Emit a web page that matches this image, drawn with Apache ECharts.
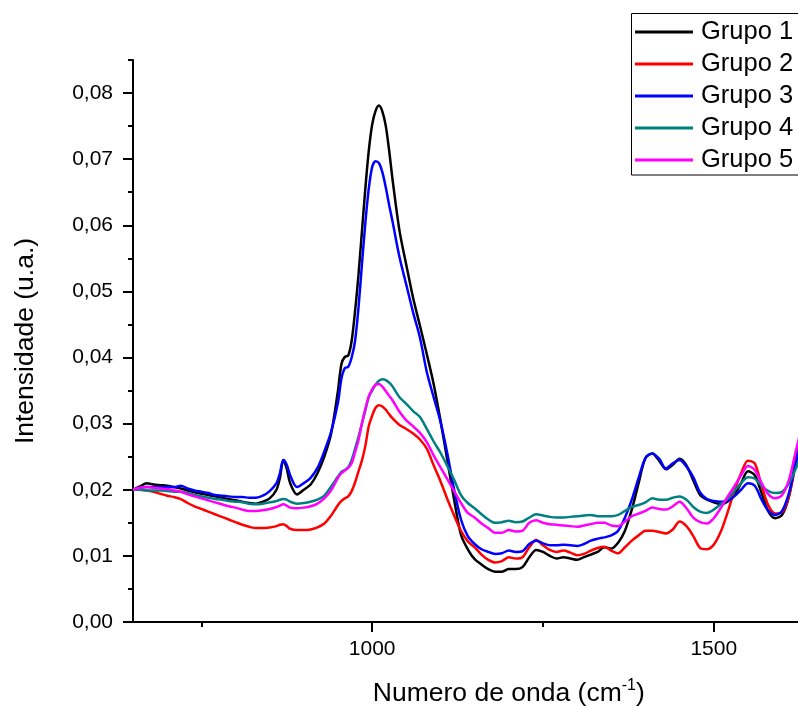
<!DOCTYPE html>
<html><head><meta charset="utf-8">
<script src="https://cdn.jsdelivr.net/npm/echarts@6/dist/echarts.min.js"></script>
<style>html,body{margin:0;padding:0;background:#fff}#c{width:798px;height:709px}</style>
</head><body><div id="c"></div>
<script>
// Wavenumber (cm-1)
const wavenumbers = [
  650,660,670,680,690,700,710,720,730,740,
  750,760,770,780,790,800,810,820,830,840,
  850,860,865,870,875,880,890,900,910,920,930,940,
  950,955,960,965,970,975,980,985,990,995,
  1000,1005,1010,1015,1020,1025,1030,1040,
  1050,1060,1070,1080,1090,1100,1110,1120,1130,1140,
  1150,1160,1170,1180,1190,1200,1210,1220,1230,1240,
  1250,1260,1270,1280,1290,1300,1310,1320,1330,1340,
  1350,1360,1370,1380,1390,1400,1410,1420,1430,1440,
  1450,1460,1470,1480,1490,1500,1510,1520,1530,1540,
  1550,1560,1570,1580,1590,1600,1610,1620,1630
];
const grupo1 = [
  0.0200,0.0205,0.0210,0.0208,0.0207,0.0206,0.0204,0.0202,0.0199,0.0196,
  0.0194,0.0192,0.0190,0.0188,0.0186,0.0184,0.0182,0.0180,0.0179,0.0182,
  0.0187,0.0200,0.0218,0.0245,0.0232,0.0210,0.0193,0.0200,0.0208,0.0225,0.0250,0.0285,
  0.0350,0.0390,0.0401,0.0403,0.0425,0.0470,0.0525,0.0590,0.0655,0.0712,
  0.0752,0.0773,0.0781,0.0772,0.0750,0.0712,0.0668,0.0592,
  0.0540,0.0490,0.0448,0.0405,0.0360,0.0305,0.0245,0.0185,0.0132,0.0110,
  0.0095,0.0087,0.0080,0.0076,0.0076,0.0080,0.0080,0.0083,0.0098,0.0109,
  0.0106,0.0100,0.0096,0.0098,0.0096,0.0094,0.0098,0.0102,0.0106,0.0113,
  0.0111,0.0120,0.0138,0.0170,0.0210,0.0248,0.0255,0.0244,0.0231,0.0238,
  0.0247,0.0237,0.0214,0.0192,0.0185,0.0181,0.0178,0.0182,0.0192,0.0210,
  0.0228,0.0222,0.0195,0.0167,0.0157,0.0162,0.0190,0.0245,0.0290
];
const grupo2 = [
  0.0200,0.0200,0.0199,0.0197,0.0194,0.0191,0.0189,0.0186,0.0180,0.0175,
  0.0171,0.0167,0.0163,0.0159,0.0155,0.0151,0.0147,0.0144,0.0142,0.0142,
  0.0143,0.0145,0.0147,0.0148,0.0145,0.0141,0.0139,0.0139,0.0140,0.0143,0.0149,0.0161,
  0.0177,0.0183,0.0187,0.0190,0.0198,0.0211,0.0228,0.0244,0.0266,0.0296,
  0.0312,0.0324,0.0328,0.0326,0.0321,0.0314,0.0308,0.0298,
  0.0292,0.0285,0.0276,0.0262,0.0237,0.0213,0.0186,0.0161,0.0138,0.0122,
  0.0113,0.0102,0.0094,0.0090,0.0092,0.0098,0.0096,0.0098,0.0113,0.0124,
  0.0116,0.0109,0.0106,0.0108,0.0105,0.0101,0.0103,0.0108,0.0112,0.0114,
  0.0108,0.0104,0.0113,0.0123,0.0131,0.0138,0.0138,0.0136,0.0134,0.0140,
  0.0152,0.0145,0.0130,0.0112,0.0110,0.0117,0.0136,0.0165,0.0198,0.0225,
  0.0244,0.0240,0.0206,0.0176,0.0164,0.0166,0.0190,0.0240,0.0285
];
const grupo3 = [
  0.0200,0.0203,0.0204,0.0204,0.0204,0.0204,0.0204,0.0206,0.0202,0.0199,
  0.0197,0.0195,0.0192,0.0191,0.0190,0.0189,0.0189,0.0188,0.0188,0.0191,
  0.0198,0.0210,0.0225,0.0245,0.0238,0.0222,0.0204,0.0210,0.0218,0.0233,0.0258,0.0288,
  0.0332,0.0368,0.0384,0.0386,0.0400,0.0425,0.0475,0.0540,0.0603,0.0655,
  0.0688,0.0697,0.0694,0.0680,0.0657,0.0630,0.0605,0.0552,
  0.0510,0.0468,0.0430,0.0378,0.0340,0.0303,0.0255,0.0200,0.0155,0.0130,
  0.0118,0.0110,0.0106,0.0103,0.0104,0.0108,0.0106,0.0107,0.0118,0.0123,
  0.0119,0.0116,0.0116,0.0117,0.0116,0.0115,0.0118,0.0123,0.0126,0.0128,
  0.0131,0.0138,0.0158,0.0185,0.0218,0.0248,0.0255,0.0247,0.0232,0.0240,
  0.0245,0.0235,0.0219,0.0196,0.0186,0.0183,0.0182,0.0183,0.0190,0.0200,
  0.0210,0.0206,0.0185,0.0168,0.0162,0.0168,0.0195,0.0240,0.0285
];
const grupo4 = [
  0.0200,0.0200,0.0199,0.0199,0.0199,0.0198,0.0197,0.0197,0.0195,0.0192,
  0.0190,0.0188,0.0186,0.0185,0.0183,0.0182,0.0181,0.0179,0.0178,0.0179,
  0.0181,0.0183,0.0185,0.0186,0.0185,0.0182,0.0179,0.0180,0.0182,0.0185,0.0191,0.0205,
  0.0220,0.0227,0.0230,0.0234,0.0245,0.0262,0.0280,0.0300,0.0320,0.0340,
  0.0350,0.0359,0.0365,0.0367,0.0366,0.0362,0.0356,0.0340,
  0.0330,0.0319,0.0310,0.0292,0.0273,0.0256,0.0236,0.0215,0.0192,0.0180,
  0.0172,0.0163,0.0155,0.0150,0.0151,0.0153,0.0151,0.0152,0.0158,0.0163,
  0.0161,0.0159,0.0158,0.0158,0.0159,0.0160,0.0161,0.0162,0.0160,0.0160,
  0.0160,0.0162,0.0168,0.0174,0.0177,0.0181,0.0187,0.0185,0.0185,0.0188,
  0.0190,0.0185,0.0174,0.0167,0.0165,0.0170,0.0178,0.0186,0.0198,0.0210,
  0.0219,0.0217,0.0206,0.0198,0.0195,0.0197,0.0210,0.0232,0.0260
];
const grupo5 = [
  0.0200,0.0203,0.0204,0.0203,0.0202,0.0201,0.0199,0.0197,0.0193,0.0190,
  0.0187,0.0184,0.0181,0.0178,0.0175,0.0173,0.0170,0.0168,0.0168,0.0169,
  0.0171,0.0174,0.0176,0.0178,0.0176,0.0173,0.0172,0.0173,0.0175,0.0179,0.0187,0.0199,
  0.0218,0.0225,0.0229,0.0233,0.0240,0.0257,0.0275,0.0300,0.0322,0.0341,
  0.0352,0.0359,0.0360,0.0356,0.0349,0.0342,0.0335,0.0318,
  0.0305,0.0296,0.0286,0.0272,0.0252,0.0234,0.0216,0.0198,0.0180,0.0165,
  0.0158,0.0149,0.0142,0.0135,0.0135,0.0139,0.0137,0.0138,0.0150,0.0154,
  0.0150,0.0148,0.0147,0.0146,0.0145,0.0144,0.0146,0.0148,0.0150,0.0150,
  0.0146,0.0145,0.0152,0.0160,0.0164,0.0168,0.0173,0.0171,0.0170,0.0175,
  0.0182,0.0172,0.0158,0.0151,0.0149,0.0157,0.0172,0.0189,0.0205,0.0222,
  0.0236,0.0230,0.0210,0.0193,0.0187,0.0192,0.0215,0.0258,0.0300
];
const seriesNames = ['Grupo 1','Grupo 2','Grupo 3','Grupo 4','Grupo 5'];
const seriesColors = ['#000000','#ff0000','#0000ff','#008080','#ff00ff'];
const xTickValues = [1000, 1500];
const xMinorTickValues = [750, 1250, 1750];
const yTickValues = [0, 0.01, 0.02, 0.03, 0.04, 0.05, 0.06, 0.07, 0.08];
const yMinorTickValues = [0.005, 0.015, 0.025, 0.035, 0.045, 0.055, 0.065, 0.075, 0.085];

const allSeries = [grupo1, grupo2, grupo3, grupo4, grupo5];
const FONT = '"Liberation Sans", Arial, sans-serif';
const GRID_W = 751.6, GRID_H = 562;

const chart = echarts.init(document.getElementById('c'), null, {renderer: 'canvas'});
const option = {
  animation: false,
  backgroundColor: '#ffffff',
  textStyle: {fontFamily: FONT, color: '#000'},
  grid: {left: 133, top: 60, width: GRID_W, height: GRID_H, outerBoundsMode: 'none', containLabel: false},
  legend: {
    orient: 'vertical', left: 631, top: 13,
    icon: 'rect', itemWidth: 58, itemHeight: 3, itemGap: 0,
    padding: [3, 10, 0, 4],
    borderWidth: 0,
    selectedMode: false,
    textStyle: {fontFamily: FONT, fontSize: 25.5, color: '#000', lineHeight: 32, padding: [0, 0, 0, 3]},
    data: seriesNames
  },
  graphic: [{
    type: 'rect', z: 100, silent: true,
    shape: {x: 631.5, y: 13.5, width: 260, height: 161.5},
    style: {fill: null, stroke: '#000', lineWidth: 1}
  }],
  xAxis: [{
    type: 'value', min: 650, max: 1750, position: 'bottom',
    axisLine: {show: true, lineStyle: {color: '#000', width: 2}},
    axisTick: {show: true, inside: false, length: 10, lineStyle: {color: '#000', width: 2}, customValues: xTickValues},
    axisLabel: {show: true, customValues: xTickValues, margin: 17, fontSize: 21, fontFamily: FONT, color: '#000', formatter: v => String(v)},
    splitLine: {show: false},
    name: '{a|Numero de onda (cm}{b|-1}{a|)}',
    nameLocation: 'middle', nameGap: 56,
    nameTextStyle: {
      fontFamily: FONT, color: '#000',
      rich: {
        a: {fontSize: 26.5, fontFamily: FONT, color: '#000', lineHeight: 31},
        b: {fontSize: 16, fontFamily: FONT, color: '#000', verticalAlign: 'top', lineHeight: 18}
      }
    }
  }, {
    type: 'value', min: 650, max: 1750, position: 'top', offset: -GRID_H,
    axisLine: {show: false},
    axisTick: {show: true, inside: true, length: 5, lineStyle: {color: '#000', width: 2}, customValues: xMinorTickValues},
    axisLabel: {show: false},
    splitLine: {show: false}
  }],
  yAxis: [{
    type: 'value', min: 0, max: 0.085, position: 'left',
    axisLine: {show: true, lineStyle: {color: '#000', width: 2}},
    axisTick: {show: true, inside: false, length: 10, lineStyle: {color: '#000', width: 2}, customValues: yTickValues},
    axisLabel: {show: true, customValues: yTickValues, margin: 20, fontSize: 21, fontFamily: FONT, color: '#000',
      formatter: v => v.toFixed(2).replace('.', ',')},
    splitLine: {show: false},
    name: 'Intensidade (u.a.)', nameLocation: 'middle', nameGap: 94,
    nameTextStyle: {fontSize: 26.5, fontFamily: FONT, color: '#000'}
  }, {
    type: 'value', min: 0, max: 0.085, position: 'right', offset: -GRID_W,
    axisLine: {show: false},
    axisTick: {show: true, inside: true, length: 5, lineStyle: {color: '#000', width: 2}, customValues: yMinorTickValues},
    axisLabel: {show: false},
    splitLine: {show: false}
  }],
  series: allSeries.map((vals, i) => ({
    name: seriesNames[i],
    type: 'line',
    xAxisIndex: 0, yAxisIndex: 0,
    data: wavenumbers.map((w, j) => [w, vals[j]]),
    showSymbol: false, symbol: 'none',
    smooth: 0.3,
    clip: true,
    lineStyle: {color: seriesColors[i], width: 2.5},
    itemStyle: {color: seriesColors[i]},
    emphasis: {disabled: true}
  }))
};
chart.setOption(option);
</script>
</body></html>
